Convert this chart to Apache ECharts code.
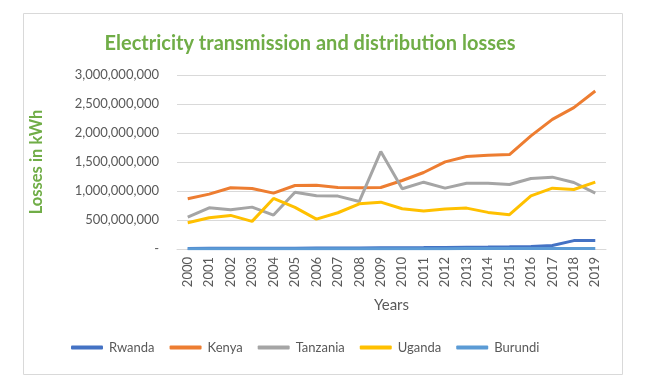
<!DOCTYPE html>
<html>
<head>
<meta charset="utf-8">
<script src="https://cdn.jsdelivr.net/npm/echarts@6/dist/echarts.min.js"></script>
<style>
html, body { margin: 0; padding: 0; background: #fff; }
#chart { width: 648px; height: 389px; }
</style>
</head>
<body>
<div id="chart"></div>
<script>
var years = ['2000', '2001', '2002', '2003', '2004', '2005', '2006', '2007', '2008', '2009',
    '2010', '2011', '2012', '2013', '2014', '2015', '2016', '2017', '2018', '2019'];
// losses in kWh
var rwanda = [10e6, 11e6, 12e6, 13e6, 14e6, 15e6, 16e6, 17e6, 18e6, 20e6,
    22e6, 24e6, 27e6, 30e6, 33e6, 37e6, 45e6, 60e6, 145e6, 145e6];
var kenya = [866e6, 946e6, 1055e6, 1044e6, 963e6, 1095e6, 1101e6, 1061e6, 1055e6, 1061e6,
    1181e6, 1319e6, 1502e6, 1594e6, 1617e6, 1628e6, 1950e6, 2236e6, 2437e6, 2724e6];
var tanzania = [550e6, 711e6, 677e6, 722e6, 585e6, 980e6, 917e6, 912e6, 820e6, 1680e6,
    1038e6, 1152e6, 1049e6, 1135e6, 1135e6, 1112e6, 1216e6, 1239e6, 1147e6, 963e6];
var uganda = [453e6, 539e6, 579e6, 476e6, 872e6, 717e6, 516e6, 625e6, 780e6, 808e6,
    694e6, 654e6, 688e6, 705e6, 631e6, 591e6, 917e6, 1049e6, 1026e6, 1153e6];
var burundi = [5e6, 5e6, 5e6, 5e6, 5e6, 5e6, 5e6, 5e6, 5e6, 6e6,
    6e6, 6e6, 6e6, 7e6, 7e6, 7e6, 7e6, 8e6, 8e6, 8e6];

var FONT = 'Lato';
var GRIS = '#595959';

function serie(nombre, datos, color) {
    return {
        name: nombre,
        type: 'line',
        data: datos,
        symbol: 'none',
        lineStyle: { width: 3, color: color },
        itemStyle: { color: color }
    };
}

var chart = echarts.init(document.getElementById('chart'));
chart.setOption({
    animation: false,
    textStyle: { fontFamily: FONT },
    title: {
        text: 'Electricity transmission and distribution losses',
        left: 305,
        textAlign: 'center',
        top: 29,
        textStyle: { color: '#70AD47', fontSize: 20, fontWeight: 'bold', fontFamily: FONT }
    },
    graphic: [{
        type: 'rect',
        shape: { x: 23.5, y: 13.5, width: 599, height: 361 },
        style: { fill: 'none', stroke: '#d9d9d9', lineWidth: 1 },
        silent: true
    }],
    legend: {
        bottom: 30,
        left: 66,
        icon: 'roundRect',
        itemWidth: 32,
        itemHeight: 4,
        itemGap: 15,
        textStyle: { color: GRIS, fontSize: 13, fontFamily: FONT, padding: [0, 0, 0, 1] },
        data: ['Rwanda', 'Kenya', 'Tanzania', 'Uganda', 'Burundi']
    },
    grid: { left: 177, right: 42, top: 75, bottom: 140 },
    xAxis: {
        type: 'category',
        data: years,
        name: 'Years',
        nameLocation: 'middle',
        nameGap: 49,
        nameTextStyle: { color: GRIS, fontSize: 15, fontFamily: FONT },
        axisLine: { lineStyle: { color: '#d9d9d9' } },
        axisTick: { show: false },
        axisLabel: { rotate: 90, color: GRIS, fontSize: 13, margin: 8, interval: 0 }
    },
    yAxis: {
        type: 'value',
        min: 0,
        max: 3e9,
        interval: 5e8,
        name: 'Losses in kWh',
        nameLocation: 'middle',
        nameRotate: 90,
        nameGap: 132,
        nameTextStyle: { color: '#70AD47', fontSize: 16.5, fontWeight: 'bold', fontFamily: FONT },
        axisLine: { show: false },
        axisTick: { show: false },
        splitLine: { lineStyle: { color: '#d9d9d9' } },
        axisLabel: {
            color: GRIS,
            fontSize: 13,
            margin: 18,
            formatter: function (v) {
                return v === 0 ? '-' : v.toLocaleString('en-US');
            }
        }
    },
    series: [
        serie('Rwanda', rwanda, '#4472C4'),
        serie('Kenya', kenya, '#ED7D31'),
        serie('Tanzania', tanzania, '#A5A5A5'),
        serie('Uganda', uganda, '#FFC000'),
        serie('Burundi', burundi, '#5B9BD5')
    ]
});
</script>
</body>
</html>
